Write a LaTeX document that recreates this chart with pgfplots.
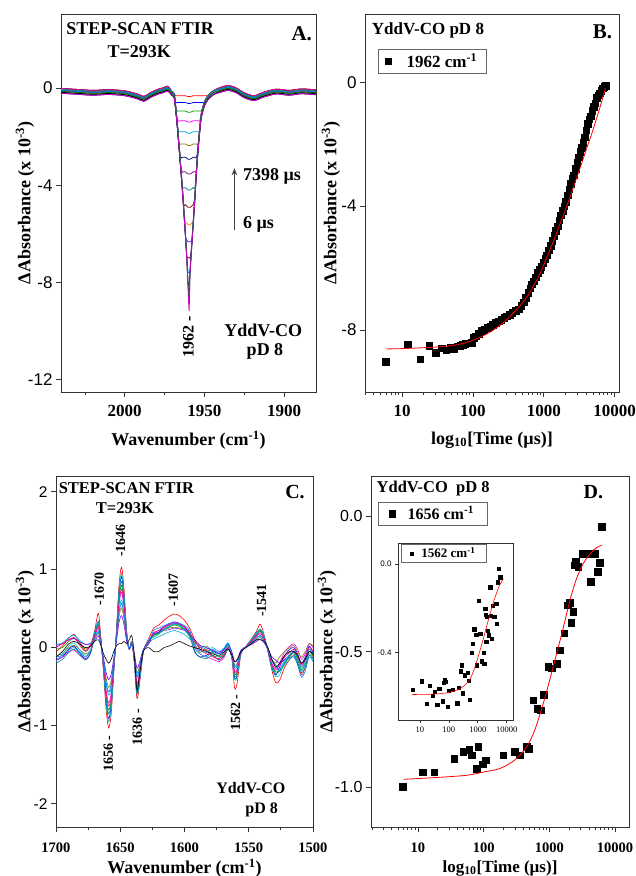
\documentclass[border=0pt]{standalone}
\usepackage{fontspec}
\setmainfont{Liberation Serif}
\setsansfont{Liberation Sans}
\usepackage{pgfplots}
\usepackage{pgfplotstable}
\pgfplotsset{compat=1.18}
\usetikzlibrary{arrows.meta}
\newcommand\fs[1]{\fontsize{#1}{#1}\selectfont}

\definecolor{o1}{RGB}{255,0,0}
\definecolor{o2}{RGB}{0,0,255}
\definecolor{o3}{RGB}{0,160,0}
\definecolor{o4}{RGB}{255,0,255}
\definecolor{o5}{RGB}{0,170,220}
\definecolor{o6}{RGB}{128,128,0}
\definecolor{o7}{RGB}{0,0,128}
\definecolor{o8}{RGB}{128,0,128}
\definecolor{o9}{RGB}{0,128,128}
\definecolor{o10}{RGB}{128,0,0}
\definecolor{o11}{RGB}{255,128,0}
\definecolor{o12}{RGB}{128,0,255}
\definecolor{o13}{RGB}{255,0,128}
\definecolor{o14}{RGB}{0,128,255}
\definecolor{o15}{RGB}{0,0,0}
\definecolor{o16}{RGB}{0,150,150}
\definecolor{o17}{RGB}{0,110,0}
\definecolor{o18}{RGB}{200,0,200}
\definecolor{o19}{RGB}{0,190,190}

\pgfplotstableread{
x a1 a2 a3 a4 a5 a6 a7 a8 a9 a10 a11 a12 a13 a14 a15 a16 a17 a18
2040 -0.02 -0.10 -0.18 -0.06 -0.14 -0.22 -0.02 -0.10 -0.18 -0.06 -0.14 -0.22 -0.02 -0.10 -0.18 -0.06 -0.14 -0.22
2030 -0.06 -0.14 -0.22 -0.10 -0.18 -0.26 -0.06 -0.14 -0.22 -0.10 -0.18 -0.26 -0.06 -0.14 -0.22 -0.10 -0.18 -0.26
2020 -0.10 -0.18 -0.26 -0.14 -0.22 -0.30 -0.10 -0.18 -0.26 -0.14 -0.22 -0.30 -0.10 -0.18 -0.26 -0.14 -0.22 -0.30
2010 -0.07 -0.15 -0.23 -0.11 -0.19 -0.27 -0.07 -0.15 -0.23 -0.11 -0.19 -0.27 -0.07 -0.15 -0.23 -0.11 -0.19 -0.27
2000 -0.12 -0.20 -0.28 -0.16 -0.24 -0.32 -0.12 -0.20 -0.28 -0.16 -0.24 -0.32 -0.12 -0.20 -0.28 -0.16 -0.24 -0.32
1992 -0.25 -0.33 -0.41 -0.29 -0.37 -0.45 -0.25 -0.33 -0.41 -0.29 -0.37 -0.45 -0.25 -0.33 -0.41 -0.29 -0.37 -0.45
1988 -0.35 -0.43 -0.51 -0.39 -0.47 -0.55 -0.35 -0.43 -0.51 -0.39 -0.47 -0.55 -0.35 -0.43 -0.51 -0.39 -0.47 -0.55
1984 -0.20 -0.28 -0.36 -0.24 -0.32 -0.40 -0.20 -0.28 -0.36 -0.24 -0.32 -0.40 -0.20 -0.28 -0.36 -0.24 -0.32 -0.40
1979 -0.05 -0.13 -0.21 -0.09 -0.17 -0.25 -0.05 -0.13 -0.21 -0.09 -0.17 -0.25 -0.05 -0.13 -0.21 -0.09 -0.17 -0.25
1976 0.00 -0.08 -0.16 -0.04 -0.12 -0.20 0.00 -0.08 -0.16 -0.04 -0.12 -0.20 0.00 -0.08 -0.16 -0.04 -0.12 -0.20
1973 0.07 -0.01 -0.09 0.03 -0.05 -0.13 0.07 -0.01 -0.09 0.03 -0.05 -0.13 0.07 -0.01 -0.09 0.03 -0.05 -0.13
1970.5 -0.14 -0.22 -0.30 -0.14 -0.22 -0.30 -0.14 -0.22 -0.30 -0.14 -0.22 -0.30 -0.14 -0.22 -0.30 -0.14 -0.22 -0.30
1969 -0.24 -0.32 -0.40 -0.24 -0.32 -0.40 -0.24 -0.32 -0.40 -0.24 -0.32 -0.40 -0.24 -0.32 -0.40 -0.24 -0.32 -0.40
1968 -0.32 -0.60 -0.93 -0.77 -0.85 -0.93 -0.77 -0.85 -0.93 -0.77 -0.85 -0.93 -0.77 -0.85 -0.93 -0.77 -0.85 -0.93
1967 -0.32 -0.60 -0.95 -1.35 -1.55 -1.63 -1.47 -1.55 -1.63 -1.47 -1.55 -1.63 -1.47 -1.55 -1.63 -1.47 -1.55 -1.63
1966 -0.32 -0.60 -0.95 -1.35 -1.80 -2.30 -2.27 -2.35 -2.43 -2.27 -2.35 -2.43 -2.27 -2.35 -2.43 -2.27 -2.35 -2.43
1965 -0.32 -0.60 -0.95 -1.35 -1.80 -2.30 -2.85 -3.15 -3.23 -3.07 -3.15 -3.23 -3.07 -3.15 -3.23 -3.07 -3.15 -3.23
1964 -0.32 -0.60 -0.95 -1.35 -1.80 -2.30 -2.85 -3.45 -4.08 -3.92 -4.00 -4.08 -3.92 -4.00 -4.08 -3.92 -4.00 -4.08
1963 -0.32 -0.60 -0.95 -1.35 -1.80 -2.30 -2.85 -3.45 -4.10 -4.80 -4.95 -5.03 -4.87 -4.95 -5.03 -4.87 -4.95 -5.03
1962 -0.32 -0.60 -0.95 -1.35 -1.80 -2.30 -2.85 -3.45 -4.10 -4.80 -5.50 -6.03 -5.87 -5.95 -6.03 -5.87 -5.95 -6.03
1961 -0.34 -0.62 -0.98 -1.38 -1.83 -2.34 -2.89 -3.50 -4.15 -4.86 -5.56 -6.26 -6.92 -7.05 -7.13 -6.97 -7.05 -7.13
1960.3 -0.35 -0.64 -1.00 -1.40 -1.86 -2.37 -2.93 -3.54 -4.20 -4.91 -5.62 -6.32 -6.97 -7.55 -8.00 -8.02 -8.10 -8.18
1959.6 -0.35 -0.64 -1.00 -1.40 -1.86 -2.37 -2.93 -3.54 -4.20 -4.91 -5.62 -6.32 -6.97 -7.58 -8.05 -8.45 -8.80 -9.15
1959 -0.35 -0.64 -1.00 -1.40 -1.86 -2.37 -2.93 -3.54 -4.20 -4.91 -5.62 -6.32 -6.97 -7.50 -7.58 -7.42 -7.50 -7.58
1958 -0.34 -0.62 -0.98 -1.38 -1.83 -2.34 -2.89 -3.50 -4.15 -4.86 -5.56 -6.26 -6.42 -6.50 -6.58 -6.42 -6.50 -6.58
1957 -0.32 -0.60 -0.95 -1.35 -1.80 -2.30 -2.85 -3.45 -4.10 -4.80 -5.50 -5.58 -5.42 -5.50 -5.58 -5.42 -5.50 -5.58
1956 -0.32 -0.60 -0.95 -1.35 -1.80 -2.30 -2.85 -3.45 -4.10 -4.42 -4.50 -4.58 -4.42 -4.50 -4.58 -4.42 -4.50 -4.58
1955 -0.32 -0.60 -0.95 -1.35 -1.80 -2.30 -2.85 -3.40 -3.48 -3.32 -3.40 -3.48 -3.32 -3.40 -3.48 -3.32 -3.40 -3.48
1954 -0.32 -0.60 -0.95 -1.35 -1.80 -2.30 -2.42 -2.50 -2.58 -2.42 -2.50 -2.58 -2.42 -2.50 -2.58 -2.42 -2.50 -2.58
1953 -0.32 -0.60 -0.95 -1.35 -1.75 -1.83 -1.67 -1.75 -1.83 -1.67 -1.75 -1.83 -1.67 -1.75 -1.83 -1.67 -1.75 -1.83
1952 -0.32 -0.60 -0.95 -1.07 -1.15 -1.23 -1.07 -1.15 -1.23 -1.07 -1.15 -1.23 -1.07 -1.15 -1.23 -1.07 -1.15 -1.23
1950 -0.32 -0.60 -0.73 -0.57 -0.65 -0.73 -0.57 -0.65 -0.73 -0.57 -0.65 -0.73 -0.57 -0.65 -0.73 -0.57 -0.65 -0.73
1948 -0.32 -0.42 -0.50 -0.34 -0.42 -0.50 -0.34 -0.42 -0.50 -0.34 -0.42 -0.50 -0.34 -0.42 -0.50 -0.34 -0.42 -0.50
1946 -0.20 -0.28 -0.36 -0.20 -0.28 -0.36 -0.20 -0.28 -0.36 -0.20 -0.28 -0.36 -0.20 -0.28 -0.36 -0.20 -0.28 -0.36
1944 -0.10 -0.18 -0.26 -0.10 -0.18 -0.26 -0.10 -0.18 -0.26 -0.10 -0.18 -0.26 -0.10 -0.18 -0.26 -0.10 -0.18 -0.26
1940 0.02 -0.06 -0.14 -0.02 -0.10 -0.18 0.02 -0.06 -0.14 -0.02 -0.10 -0.18 0.02 -0.06 -0.14 -0.02 -0.10 -0.18
1935 0.10 0.02 -0.06 0.06 -0.02 -0.10 0.10 0.02 -0.06 0.06 -0.02 -0.10 0.10 0.02 -0.06 0.06 -0.02 -0.10
1930 0.00 -0.08 -0.16 -0.04 -0.12 -0.20 0.00 -0.08 -0.16 -0.04 -0.12 -0.20 0.00 -0.08 -0.16 -0.04 -0.12 -0.20
1925 -0.20 -0.28 -0.36 -0.24 -0.32 -0.40 -0.20 -0.28 -0.36 -0.24 -0.32 -0.40 -0.20 -0.28 -0.36 -0.24 -0.32 -0.40
1919 -0.32 -0.40 -0.48 -0.36 -0.44 -0.52 -0.32 -0.40 -0.48 -0.36 -0.44 -0.52 -0.32 -0.40 -0.48 -0.36 -0.44 -0.52
1913 -0.18 -0.26 -0.34 -0.22 -0.30 -0.38 -0.18 -0.26 -0.34 -0.22 -0.30 -0.38 -0.18 -0.26 -0.34 -0.22 -0.30 -0.38
1905 -0.05 -0.13 -0.21 -0.09 -0.17 -0.25 -0.05 -0.13 -0.21 -0.09 -0.17 -0.25 -0.05 -0.13 -0.21 -0.09 -0.17 -0.25
1897 -0.10 -0.18 -0.26 -0.14 -0.22 -0.30 -0.10 -0.18 -0.26 -0.14 -0.22 -0.30 -0.10 -0.18 -0.26 -0.14 -0.22 -0.30
1889 -0.04 -0.12 -0.20 -0.08 -0.16 -0.24 -0.04 -0.12 -0.20 -0.08 -0.16 -0.24 -0.04 -0.12 -0.20 -0.08 -0.16 -0.24
1880 -0.08 -0.16 -0.24 -0.12 -0.20 -0.28 -0.08 -0.16 -0.24 -0.12 -0.20 -0.28 -0.08 -0.16 -0.24 -0.12 -0.20 -0.28
}\tabA

\pgfplotstableread{
x c1 c2 c3 c4 c5 c6 c7 c8 c9 c10 c11 c12
1700 -0.05 -0.15 -0.02 -0.17 0.04 -0.10 0.03 -0.20 -0.12 -0.18 0.00 -0.12
1695 0.02 -0.12 0.00 -0.12 0.06 -0.08 0.05 -0.15 -0.05 -0.08 0.05 -0.10
1690 0.12 -0.02 0.08 -0.05 0.13 0.00 0.10 -0.06 0.05 0.02 0.10 -0.03
1686 0.17 0.02 0.12 -0.03 0.16 0.03 0.12 -0.02 0.08 0.06 0.13 0.00
1682 0.08 -0.06 0.06 -0.09 0.10 -0.02 0.08 -0.08 0.05 -0.02 0.04 -0.05
1677 -0.02 -0.14 -0.04 -0.15 0.04 -0.08 0.04 -0.16 0.00 -0.10 -0.05 -0.12
1673 0.04 -0.06 0.02 -0.07 0.06 -0.03 0.05 -0.06 0.02 -0.02 0.03 -0.04
1670 0.21 0.19 0.16 0.14 0.12 0.10 0.08 0.17 0.08 0.19 0.15 0.12
1667 0.44 0.33 0.29 0.25 0.22 0.18 0.15 0.30 0.10 0.34 0.27 0.20
1665 0.11 0.09 0.08 0.07 0.06 0.05 0.04 0.09 0.02 0.10 0.08 0.06
1663 -0.32 -0.28 -0.25 -0.22 -0.19 -0.16 -0.13 -0.26 -0.08 -0.29 -0.23 -0.17
1661 -0.79 -0.70 -0.62 -0.54 -0.47 -0.39 -0.32 -0.65 -0.15 -0.73 -0.58 -0.44
1659 -1.03 -0.91 -0.80 -0.71 -0.61 -0.51 -0.41 -0.85 -0.20 -0.95 -0.75 -0.57
1657 -0.84 -0.74 -0.66 -0.58 -0.50 -0.42 -0.34 -0.70 -0.15 -0.78 -0.62 -0.46
1655 -0.32 -0.28 -0.25 -0.22 -0.19 -0.16 -0.13 -0.26 -0.05 -0.29 -0.23 -0.17
1653 0.21 0.19 0.16 0.14 0.12 0.10 0.08 0.17 0.02 0.19 0.15 0.12
1651 0.79 0.70 0.62 0.54 0.47 0.39 0.32 0.65 0.05 0.73 0.58 0.44
1649 1.03 0.91 0.80 0.71 0.61 0.51 0.41 0.85 0.05 0.95 0.75 0.57
1647 0.74 0.65 0.57 0.50 0.43 0.36 0.29 0.61 0.08 0.68 0.54 0.41
1645 0.21 0.19 0.16 0.14 0.12 0.10 0.08 0.17 0.05 0.19 0.15 0.12
1643 -0.02 -0.02 -0.02 -0.01 -0.01 -0.01 -0.01 -0.02 0.10 -0.02 -0.02 -0.01
1641 0.08 0.07 0.07 0.06 0.05 0.04 0.03 0.07 0.15 0.08 0.06 0.05
1639 -0.21 -0.19 -0.16 -0.14 -0.12 -0.10 -0.08 -0.17 -0.10 -0.19 -0.15 -0.12
1637 -0.65 -0.58 -0.51 -0.45 -0.38 -0.32 -0.26 -0.54 -0.55 -0.60 -0.48 -0.36
1635 -0.47 -0.42 -0.37 -0.32 -0.28 -0.23 -0.19 -0.39 -0.35 -0.44 -0.35 -0.26
1632 -0.05 -0.05 -0.04 -0.04 -0.03 -0.03 -0.02 -0.04 -0.05 -0.05 -0.04 -0.03
1628 0.11 0.09 0.08 0.07 0.06 0.05 0.04 0.09 0.00 0.10 0.08 0.06
1624 0.25 0.17 0.15 0.19 0.11 0.17 0.18 0.16 -0.05 0.13 0.19 0.22
1620 0.29 0.20 0.18 0.22 0.14 0.19 0.19 0.19 -0.05 0.17 0.22 0.25
1616 0.35 0.26 0.23 0.26 0.17 0.23 0.22 0.24 0.00 0.23 0.27 0.28
1612 0.40 0.30 0.26 0.29 0.20 0.25 0.23 0.28 0.02 0.27 0.30 0.31
1608 0.43 0.33 0.29 0.31 0.22 0.26 0.25 0.30 0.05 0.30 0.32 0.32
1604 0.41 0.31 0.27 0.30 0.20 0.25 0.24 0.29 0.08 0.28 0.30 0.31
1600 0.35 0.26 0.23 0.26 0.17 0.23 0.22 0.24 0.05 0.23 0.27 0.28
1596 0.25 0.17 0.15 0.19 0.11 0.17 0.18 0.16 0.02 0.13 0.19 0.22
1592 0.10 -0.05 0.08 0.00 0.06 0.05 0.10 -0.06 0.00 -0.02 0.08 0.02
1588 -0.02 -0.12 0.00 -0.08 0.02 -0.06 0.03 -0.12 -0.02 -0.08 0.00 -0.04
1583 -0.08 -0.10 0.02 -0.12 -0.02 -0.02 0.00 -0.14 -0.05 -0.12 -0.04 -0.06
1578 -0.10 -0.05 -0.06 -0.15 0.00 -0.10 -0.04 -0.10 -0.08 -0.06 -0.12 -0.02
1573 -0.16 -0.08 -0.12 -0.18 -0.05 -0.12 -0.06 -0.16 -0.10 -0.12 -0.14 -0.08
1569 -0.10 -0.02 -0.10 -0.12 0.00 -0.06 -0.02 -0.10 -0.05 -0.06 -0.08 -0.03
1566 0.02 0.05 -0.02 0.00 0.06 0.02 0.04 -0.02 -0.02 0.03 0.00 0.05
1563 -0.16 -0.14 -0.12 -0.11 -0.09 -0.08 -0.06 -0.13 -0.10 -0.15 -0.12 -0.09
1561 -0.52 -0.39 -0.34 -0.30 -0.26 -0.22 -0.18 -0.37 -0.18 -0.41 -0.32 -0.24
1559 -0.45 -0.35 -0.31 -0.27 -0.24 -0.20 -0.16 -0.33 -0.15 -0.37 -0.29 -0.22
1556 -0.08 -0.07 -0.07 -0.06 -0.05 -0.04 -0.03 -0.07 -0.05 -0.08 -0.06 -0.05
1552 0.02 0.02 0.02 0.01 0.01 0.01 0.01 0.02 0.00 0.02 0.02 0.01
1548 0.11 0.09 0.08 0.07 0.06 0.05 0.04 0.09 0.05 0.10 0.08 0.06
1544 0.21 0.19 0.16 0.14 0.12 0.10 0.08 0.17 0.10 0.19 0.15 0.12
1541 0.30 0.23 0.21 0.18 0.16 0.13 0.11 0.22 0.10 0.24 0.19 0.15
1538 0.16 0.14 0.12 0.11 0.09 0.08 0.06 0.13 0.08 0.15 0.12 0.09
1535 -0.05 -0.05 -0.04 -0.04 -0.03 -0.03 -0.02 -0.04 0.00 -0.05 -0.04 -0.03
1532 -0.29 -0.26 -0.23 -0.20 -0.17 -0.15 -0.12 -0.24 -0.15 -0.27 -0.22 -0.16
1529 -0.45 -0.35 -0.31 -0.27 -0.24 -0.20 -0.16 -0.33 -0.25 -0.37 -0.29 -0.22
1526 -0.42 -0.25 -0.30 -0.20 -0.30 -0.12 -0.20 -0.30 -0.20 -0.35 -0.22 -0.28
1522 -0.25 -0.10 -0.20 -0.05 -0.22 -0.05 -0.15 -0.20 -0.10 -0.18 -0.12 -0.16
1518 -0.15 -0.02 -0.12 0.02 -0.15 0.00 -0.10 -0.10 -0.05 -0.08 -0.06 -0.14
1515 -0.10 0.00 -0.06 0.05 -0.10 0.03 -0.05 -0.08 -0.05 -0.04 -0.02 -0.12
1512 -0.20 -0.08 -0.15 -0.02 -0.20 -0.05 -0.12 -0.18 -0.10 -0.12 -0.10 -0.22
1509 -0.35 -0.20 -0.28 -0.15 -0.30 -0.12 -0.25 -0.32 -0.20 -0.25 -0.22 -0.38
1506 -0.25 -0.12 -0.20 -0.08 -0.22 -0.05 -0.15 -0.25 -0.15 -0.18 -0.14 -0.30
1503 -0.05 0.02 -0.05 0.05 -0.08 0.05 -0.02 -0.10 -0.05 -0.02 0.00 -0.12
1500 -0.12 -0.06 -0.10 0.00 -0.14 0.02 -0.08 -0.15 -0.08 -0.08 -0.04 -0.18
}\tabC

\pgfplotsset{
  panel/.style={scale only axis, anchor=south west,
    axis line style={line width=0.9pt, black!80},
    every tick/.style={line width=0.8pt, black!80},
    tick align=outside, xtick pos=bottom, ytick pos=left,
    major tick length=5pt, minor tick length=3pt,
    clip mode=individual},
  spec/.style={line width=0.6pt, smooth},
  specA/.style={line width=0.75pt, smooth},
  fit/.style={red, line width=0.8pt, smooth},
}

\begin{document}
\begin{tikzpicture}
\path[use as bounding box] (0,0) rectangle (636pt,876pt);

% ---------------- Panel A ----------------
\begin{axis}[panel, at={(61pt,484pt)}, width=255pt, height=378pt,
  xmin=1880, xmax=2040, x dir=reverse, ymin=-12.5, ymax=3.04,
  xtick={1900,1950,2000}, xticklabels={1900,1950,2000}, minor xtick={1925,1975,2025},
  ytick={-12,-8,-4,0}, yticklabels={-12,-8,-4,0},
  xticklabel style={font=\bfseries\fs{17}}, yticklabel style={font=\sffamily\fs{17}},
  xticklabel shift=5pt,
  xlabel={Wavenumber (cm\textsuperscript{-1})},
  ylabel={ΔAbsorbance (x 10\textsuperscript{-3})},
  xlabel style={at={(axis description cs:0.5,-0.127)}, anchor=center, font=\bfseries\fs{18}},
  ylabel style={at={(axis description cs:-0.141,0.5)}, anchor=center, font=\bfseries\fs{18}},
]
\addplot[specA, o1] table[x=x, y=a1]{\tabA};
\addplot[specA, o2] table[x=x, y=a2]{\tabA};
\addplot[specA, o3] table[x=x, y=a3]{\tabA};
\addplot[specA, o4] table[x=x, y=a4]{\tabA};
\addplot[specA, o5] table[x=x, y=a5]{\tabA};
\addplot[specA, o6] table[x=x, y=a6]{\tabA};
\addplot[specA, o7] table[x=x, y=a7]{\tabA};
\addplot[specA, o8] table[x=x, y=a8]{\tabA};
\addplot[specA, o9] table[x=x, y=a9]{\tabA};
\addplot[specA, o10] table[x=x, y=a10]{\tabA};
\addplot[specA, o11] table[x=x, y=a11]{\tabA};
\addplot[specA, o12] table[x=x, y=a12]{\tabA};
\addplot[specA, o13] table[x=x, y=a13]{\tabA};
\addplot[specA, o14] table[x=x, y=a14]{\tabA};
\addplot[specA, o15] table[x=x, y=a15]{\tabA};
\addplot[specA, o16] table[x=x, y=a16]{\tabA};
\addplot[specA, o17] table[x=x, y=a17]{\tabA};
\addplot[specA, o18] table[x=x, y=a18]{\tabA};
\node[font=\bfseries\fs{18}] at (rel axis cs:0.31,0.96) {STEP-SCAN FTIR};
\node[font=\bfseries\fs{18}] at (rel axis cs:0.307,0.90) {T=293K};
\node[font=\bfseries\fs{21}] at (rel axis cs:0.944,0.949) {A.};
\draw[line width=1.3pt, black!75, -{Stealth[length=7pt,width=5.5pt]}] (rel axis cs:0.68,0.429) -- (rel axis cs:0.68,0.592);
\node[font=\bfseries\fs{18}, anchor=west] at (rel axis cs:0.70,0.570) {7398 µs};
\node[font=\bfseries\fs{18}, anchor=west] at (rel axis cs:0.70,0.444) {6 µs};
\node[font=\bfseries\fs{16}, rotate=90, anchor=east] at (axis cs:1960.0,-9.25) {1962 -};
\node[font=\bfseries\fs{18}] at (rel axis cs:0.793,0.164) {YddV-CO};
\node[font=\bfseries\fs{18}] at (rel axis cs:0.80,0.107) {pD 8};
\end{axis}

% ---------------- Panel B ----------------
\begin{axis}[panel, at={(365pt,484pt)}, width=254pt, height=378pt,
  xmode=log, xmin=3, xmax=11500, ymin=-10, ymax=2.2,
  xtick={10,100,1000,10000}, xticklabels={10,100,1000,10000},
  minor xtick={3,4,5,6,7,8,9,20,30,40,50,60,70,80,90,200,300,400,500,600,700,800,900,2000,3000,4000,5000,6000,7000,8000,9000},
  ytick={-8,-4,0}, yticklabels={-8,-4,0},
  xticklabel style={font=\bfseries\fs{17}}, yticklabel style={font=\sffamily\fs{17}},
  xticklabel shift=5pt,
  xlabel={log\textsubscript{10}[Time (µs)]},
  ylabel={ΔAbsorbance (x 10\textsuperscript{-3})},
  xlabel style={at={(axis description cs:0.5,-0.127)}, anchor=center, font=\bfseries\fs{18}},
  ylabel style={at={(axis description cs:-0.134,0.5)}, anchor=center, font=\bfseries\fs{18}},
  legend style={at={(0.05,0.907)}, anchor=north west, draw=black!60, line width=0.6pt,
    font=\bfseries\fs{17}, inner xsep=7pt, inner ysep=2pt,
    /tikz/every odd column/.append style={column sep=13pt}},
  legend cell align=left,
]
\addplot[only marks, mark=square*, mark size=3.3pt, black] coordinates {
(5.9,-9.02) (11.9,-8.46) (18,-8.94) (24,-8.5) (30,-8.73) (36,-8.59) (42,-8.65) (48,-8.58)
(54,-8.6) (60,-8.52) (66,-8.5) (72,-8.47) (78,-8.44) (84,-8.42) (90,-8.43) (96,-8.4)
(102,-8.25) (110,-8.2) (120,-8.12) (132,-8.02) (145,-7.98) (160,-7.93) (175,-7.88) (190,-7.83)
(210,-7.77) (230,-7.72) (250,-7.66) (275,-7.6) (300,-7.55) (330,-7.5) (360,-7.45) (400,-7.38)
(440,-7.33) (480,-7.22) (520,-7.1) (560,-6.95) (600,-6.8) (640,-6.65) (680,-6.52) (720,-6.42)
(770,-6.3) (820,-6.15) (870,-6.05) (920,-5.95) (980,-5.82) (1040,-5.7) (1100,-5.58) (1170,-5.42)
(1240,-5.28) (1320,-5.12) (1400,-4.95) (1480,-4.8) (1560,-4.65) (1650,-4.45) (1740,-4.3) (1840,-4.15)
(1940,-4.0) (2050,-3.85) (2160,-3.65) (2280,-3.45) (2400,-3.28) (2530,-3.12) (2660,-3.0) (2800,-2.8)
(2950,-2.6) (3100,-2.42) (3260,-2.25) (3430,-2.12) (3600,-1.95) (3780,-1.78) (3970,-1.55) (4170,-1.35)
(4380,-1.2) (4600,-1.1) (4830,-0.92) (5070,-0.8) (5320,-0.68) (5590,-0.5) (5870,-0.42) (6160,-0.35)
(6470,-0.28) (6790,-0.2) (7130,-0.15) (7398,-0.12)};
\addlegendentry{1962 cm\textsuperscript{-1}}
\addplot[fit, forget plot] coordinates {
(6,-8.61) (10,-8.6) (20,-8.57) (30,-8.55) (50,-8.5) (70,-8.44) (100,-8.33) (150,-8.15)
(200,-7.98) (250,-7.82) (300,-7.66) (400,-7.38) (500,-7.12) (600,-6.88) (700,-6.62) (800,-6.38)
(1000,-5.9) (1200,-5.45) (1400,-5.07) (1600,-4.72) (1800,-4.42) (2000,-4.15) (2500,-3.52) (3000,-3.0)
(3500,-2.55) (4000,-2.15) (4500,-1.82) (5000,-1.5) (5500,-1.2) (6000,-0.92) (6500,-0.65) (7000,-0.4) (7400,-0.2)};
\node[font=\bfseries\fs{17}] at (rel axis cs:0.248,0.956) {YddV-CO pD 8};
\node[font=\bfseries\fs{21}] at (rel axis cs:0.935,0.953) {B.};
\end{axis}

% ---------------- Panel C ----------------
\begin{axis}[panel, at={(56pt,49pt)}, width=257pt, height=351pt,
  xmin=1500, xmax=1700, x dir=reverse, ymin=-2.3, ymax=2.2,
  xtick={1500,1550,1600,1650,1700}, xticklabels={1500,1550,1600,1650,1700},
  minor xtick={1525,1575,1625,1675},
  ytick={-2,-1,0,1,2}, yticklabels={-2,-1,0,1,2},
  xticklabel style={font=\bfseries\fs{14.5}}, yticklabel style={font=\sffamily\fs{15.5}},
  xticklabel shift=7pt,
  xlabel={Wavenumber (cm\textsuperscript{-1})},
  ylabel={ΔAbsorbance (x 10\textsuperscript{-3})},
  xlabel style={at={(axis description cs:0.5,-0.117)}, anchor=center, font=\bfseries\fs{18}},
  ylabel style={at={(axis description cs:-0.121,0.5)}, anchor=center, font=\bfseries\fs{18}},
]
\addplot[spec, o1] table[x=x, y=c1]{\tabC};
\addplot[spec, o2] table[x=x, y=c2]{\tabC};
\addplot[spec, o3] table[x=x, y=c3]{\tabC};
\addplot[spec, o4] table[x=x, y=c4]{\tabC};
\addplot[spec, o5] table[x=x, y=c5]{\tabC};
\addplot[spec, o6] table[x=x, y=c6]{\tabC};
\addplot[spec, o12] table[x=x, y=c7]{\tabC};
\addplot[spec, o9] table[x=x, y=c8]{\tabC};
\addplot[spec, o19] table[x=x, y=c10]{\tabC};
\addplot[spec, o13] table[x=x, y=c11]{\tabC};
\addplot[spec, o14] table[x=x, y=c12]{\tabC};
\addplot[spec, black] table[x=x, y=c9]{\tabC};
\node[font=\bfseries\fs{16.5}] at (rel axis cs:0.274,0.965) {STEP-SCAN FTIR};
\node[font=\bfseries\fs{16.5}] at (rel axis cs:0.268,0.908) {T=293K};
\node[font=\bfseries\fs{20}] at (rel axis cs:0.93,0.954) {C.};
\node[font=\bfseries\fs{14}, rotate=90, anchor=west] at (axis cs:1666.3,0.50) {-1670};
\node[font=\bfseries\fs{14}, rotate=90, anchor=west] at (axis cs:1649.7,1.12) {-1646};
\node[font=\bfseries\fs{14}, rotate=90, anchor=west] at (axis cs:1608.7,0.48) {-1607};
\node[font=\bfseries\fs{14}, rotate=90, anchor=west] at (axis cs:1540,0.35) {-1541};
\node[font=\bfseries\fs{14}, rotate=90, anchor=east] at (axis cs:1659.3,-1.08) {1656 -};
\node[font=\bfseries\fs{14}, rotate=90, anchor=east] at (axis cs:1636.7,-0.74) {1636 -};
\node[font=\bfseries\fs{14}, rotate=90, anchor=east] at (axis cs:1560.2,-0.56) {1562 -};
\node[font=\bfseries\fs{16}] at (rel axis cs:0.758,0.110) {YddV-CO};
\node[font=\bfseries\fs{16}] at (rel axis cs:0.80,0.05) {pD 8};
\end{axis}

% ---------------- Panel D ----------------
\begin{axis}[panel, at={(371pt,49pt)}, width=258pt, height=351pt,
  xmode=log, xmin=1.93, xmax=16300, ymin=-1.148, ymax=0.148,
  xtick={10,100,1000,10000}, xticklabels={10,100,1000,10000},
  minor xtick={2,3,4,5,6,7,8,9,20,30,40,50,60,70,80,90,200,300,400,500,600,700,800,900,2000,3000,4000,5000,6000,7000,8000,9000},
  ytick={-1,-0.5,0}, yticklabels={-1.0,-0.5,0.0},
  xticklabel style={font=\bfseries\fs{14.5}}, yticklabel style={font=\sffamily\fs{16}},
  xticklabel shift=7pt,
  xlabel={log\textsubscript{10}[Time (µs)]},
  ylabel={ΔAbsorbance (x 10\textsuperscript{-3})},
  xlabel style={at={(axis description cs:0.5,-0.117)}, anchor=center, font=\bfseries\fs{17}},
  ylabel style={at={(axis description cs:-0.171,0.5)}, anchor=center, font=\bfseries\fs{18}},
  legend style={at={(0.026,0.927)}, anchor=north west, draw=black!60, line width=0.6pt,
    font=\bfseries\fs{16}, inner xsep=11pt, inner ysep=2pt,
    /tikz/every odd column/.append style={column sep=10pt}},
  legend cell align=left,
]
\addplot[only marks, mark=square*, mark size=3.3pt, black] coordinates {
(5.8,-1.0) (11.8,-0.945) (17.7,-0.945) (35.8,-0.895) (49,-0.871) (60,-0.862) (66,-0.883)
(78,-0.932) (83,-0.852) (96,-0.916) (108,-0.901) (199,-0.883) (299,-0.871) (357,-0.883)
(451,-0.852) (484,-0.858) (569,-0.68) (654,-0.711) (736,-0.717) (828,-0.659) (964,-0.557)
(1083,-0.561) (1292,-0.544) (1449,-0.495) (1687,-0.433) (1900,-0.329) (2061,-0.32) (2135,-0.394)
(2312,-0.353) (2453,-0.181) (2541,-0.169) (2754,-0.187) (3214,-0.138) (3697,-0.138) (4250,-0.243)
(4942,-0.138) (5432,-0.206) (5888,-0.172) (6250,-0.039)};
\addlegendentry{1656 cm\textsuperscript{-1}}
\addplot[fit, forget plot] coordinates {
(6,-0.972) (20,-0.965) (55,-0.957) (100,-0.945) (177,-0.932) (300,-0.9) (451,-0.852) (600,-0.79)
(807,-0.692) (1000,-0.61) (1292,-0.507) (1600,-0.42) (2061,-0.31) (2600,-0.23) (3281,-0.175)
(4000,-0.145) (5000,-0.12) (6250,-0.107)};
\node[font=\bfseries\fs{16.5}] at (rel axis cs:0.241,0.963) {YddV-CO\ \ pD 8};
\node[font=\bfseries\fs{20}] at (rel axis cs:0.862,0.955) {D.};
\end{axis}

% ---------------- Inset ----------------
\begin{axis}[panel, at={(398pt,156pt)}, width=115pt, height=177pt,
  axis background/.style={fill=white},
  major tick length=3pt, minor tick length=1.5pt,
  every tick/.style={line width=0.6pt, black!80},
  axis line style={line width=0.8pt, black!80},
  xmode=log, xmin=1.75, xmax=16500, ymin=-0.704, ymax=0.094,
  xtick={10,100,1000,10000}, xticklabels={10,100,1000,10000},
  minor xtick={2,3,4,5,6,7,8,9,20,30,40,50,60,70,80,90,200,300,400,500,600,700,800,900,2000,3000,4000,5000,6000,7000,8000,9000},
  ytick={-0.4,0}, yticklabels={-0.4,0.0},
  xticklabel style={font=\fs{8.5}}, yticklabel style={font=\sffamily\fs{8}},
  legend style={at={(0.026,0.993)}, anchor=north west, draw=black!60, line width=0.5pt,
    font=\bfseries\fs{13}, inner xsep=9pt, inner ysep=1pt,
    /tikz/every odd column/.append style={column sep=6pt}},
  legend cell align=left,
]
\addplot[only marks, mark=square*, mark size=1.6pt, black] coordinates {
(5.5,-0.569) (11.2,-0.529) (17,-0.631) (22,-0.55) (28,-0.595) (32.7,-0.577) (39.6,-0.634)
(46.4,-0.562) (61.7,-0.619) (66.8,-0.535) (72.3,-0.521) (78,-0.532) (91.6,-0.644) (102,-0.572)
(136,-0.568) (193,-0.628) (219,-0.557) (250,-0.484) (287,-0.457) (310,-0.583) (344,-0.502)
(460,-0.49) (498,-0.528) (522,-0.611) (631,-0.4) (684,-0.361) (758,-0.295) (888,-0.318)
(900,-0.457) (1067,-0.165) (1219,-0.315) (1393,-0.439) (1585,-0.4) (1671,-0.449) (1811,-0.202)
(1913,-0.229) (1958,-0.352) (2071,-0.24) (2239,-0.303) (2425,-0.322) (2691,-0.105) (2844,-0.232)
(3075,-0.337) (3329,-0.19) (3691,-0.24) (4330,-0.18) (4571,-0.27) (4790,-0.083) (5192,-0.022)
(5934,-0.06)};
\addlegendentry{1562 cm\textsuperscript{-1}}
\addplot[red, line width=0.6pt, smooth, forget plot] coordinates {
(5.5,-0.589) (20,-0.588) (51,-0.585) (100,-0.58) (193,-0.569) (350,-0.548) (552,-0.517) (800,-0.465)
(1067,-0.412) (1500,-0.345) (2071,-0.277) (2700,-0.222) (3500,-0.172) (4500,-0.13) (5500,-0.1) (7700,-0.067)};
\end{axis}
\end{tikzpicture}
\end{document}
